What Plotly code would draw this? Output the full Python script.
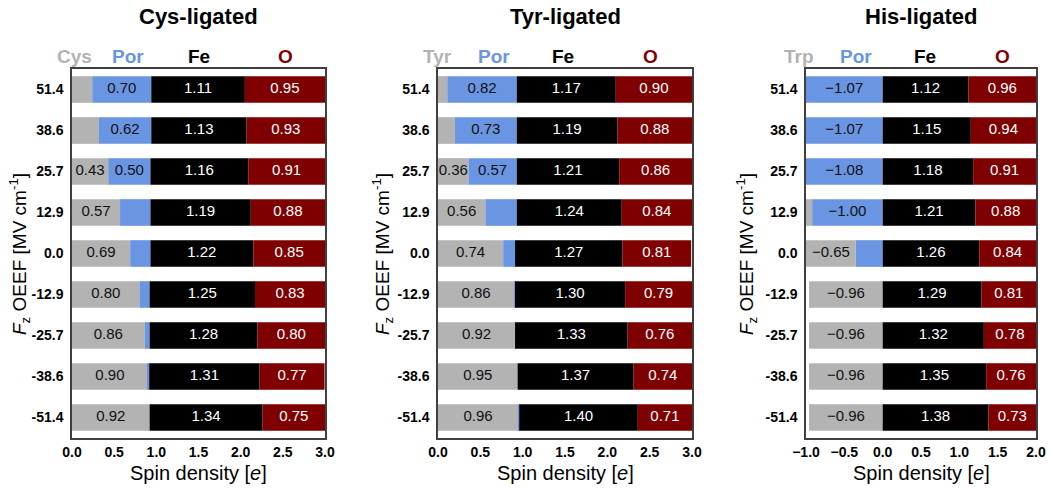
import plotly.graph_objects as go

# ---------------- data ----------------
fields = ["51.4", "38.6", "25.7", "12.9", "0.0", "-12.9", "-25.7", "-38.6", "-51.4"]

# Cys-ligated
cys_lig = [0.24, 0.32, 0.43, 0.57, 0.69, 0.80, 0.86, 0.90, 0.92]
cys_por = [0.70, 0.62, 0.50, 0.36, 0.24, 0.12, 0.06, 0.015, 0.0]
cys_fe = [1.11, 1.13, 1.16, 1.19, 1.22, 1.25, 1.28, 1.31, 1.34]
cys_o = [0.95, 0.93, 0.91, 0.88, 0.85, 0.83, 0.80, 0.77, 0.75]
cys_lig_text = ["", "", "0.43", "0.57", "0.69", "0.80", "0.86", "0.90", "0.92"]
cys_por_text = ["0.70", "0.62", "0.50", "", "", "", "", "", ""]

# Tyr-ligated
tyr_lig = [0.11, 0.20, 0.36, 0.56, 0.77, 0.90, 0.91, 0.94, 0.945]
tyr_por = [0.82, 0.73, 0.57, 0.37, 0.14, 0.01, 0.0, 0.0, 0.015]
tyr_fe = [1.17, 1.19, 1.21, 1.24, 1.27, 1.30, 1.33, 1.37, 1.40]
tyr_o = [0.90, 0.88, 0.86, 0.84, 0.81, 0.79, 0.76, 0.74, 0.71]
tyr_lig_text = ["", "", "0.36", "0.56", "0.74", "0.86", "0.92", "0.95", "0.96"]
tyr_por_text = ["0.82", "0.73", "0.57", "", "", "", "", "", ""]

# His-ligated
his_lig = [0.0, 0.0, 0.0, -0.10, -0.65, -0.96, -0.96, -0.96, -0.96]
his_por = [-1.07, -1.07, -1.08, -0.92, -0.35, 0.0, 0.0, 0.0, 0.0]
his_fe = [1.12, 1.15, 1.18, 1.21, 1.26, 1.29, 1.32, 1.35, 1.38]
his_o = [0.96, 0.94, 0.91, 0.88, 0.84, 0.81, 0.78, 0.76, 0.73]
his_lig_text = ["", "", "", "", "\u22120.65", "\u22120.96", "\u22120.96", "\u22120.96", "\u22120.96"]
his_por_text = ["\u22121.07", "\u22121.07", "\u22121.08", "\u22121.00", "", "", "", "", ""]

panel_titles = ["Cys-ligated", "Tyr-ligated", "His-ligated"]
ligand_names = ["Cys", "Tyr", "Trp"]
x_ranges = [[0, 3], [0, 3], [-1, 2]]
x_ticks = [[0, 0.5, 1, 1.5, 2, 2.5, 3], [0, 0.5, 1, 1.5, 2, 2.5, 3], [-1, -0.5, 0, 0.5, 1, 1.5, 2]]

# ---------------- style ----------------
W, H = 1050, 490
GREY = "#b3b3b3"
BLUE = "#6a95e2"
BLACK = "#000000"
RED = "#7f0000"
FONT = "Liberation Sans, Arial, sans-serif"

panels_px = [(72, 325), (438, 692), (806, 1036)]
top_px, bot_px = 69, 438
header_px = [
    [74, 128, 199, 285],
    [437, 494, 563, 650],
    [799, 856, 925, 1002],
]
ytitle_x = [19, 382, 746]

fig = go.Figure()

def px2x(p):
    return p / W

def px2y(p):
    return 1 - p / H

panels = [
    (cys_lig, cys_por, cys_fe, cys_o, cys_lig_text, cys_por_text, False),
    (tyr_lig, tyr_por, tyr_fe, tyr_o, tyr_lig_text, tyr_por_text, False),
    (his_lig, his_por, his_fe, his_o, his_lig_text, his_por_text, True),
]

for i, (lig, por, fe, o, lig_t, por_t, neg) in enumerate(panels):
    xa = "x" if i == 0 else f"x{i+1}"
    ya = "y" if i == 0 else f"y{i+1}"
    xmin, xmax = x_ranges[i]
    if neg:
        order = [(por, BLUE, por_t, "#111111"), (lig, GREY, lig_t, "#111111")]
    else:
        order = [(lig, GREY, lig_t, "#111111"), (por, BLUE, por_t, "#111111")]
    fe_t = [f"{v:.2f}" for v in fe]
    o_t = [f"{v:.2f}" for v in o]
    order += [(fe, BLACK, fe_t, "white"), (o, RED, o_t, "white")]

    pos_base = [0.0] * len(fields)
    neg_base = [0.0] * len(fields)
    for vals, col, texts, tcol in order:
        fig.add_trace(go.Bar(
            y=fields, x=vals, orientation="h", marker=dict(color=col, line=dict(width=0)),
            xaxis=xa, yaxis=ya, showlegend=False, hoverinfo="x",
        ))
        mids, ys, ts = [], [], []
        for k, v in enumerate(vals):
            if v >= 0:
                a, b = pos_base[k], pos_base[k] + v
                pos_base[k] = b
            else:
                a, b = neg_base[k] + v, neg_base[k]
                neg_base[k] = a
            a, b = max(a, xmin), min(b, xmax)
            if texts[k]:
                mids.append((a + b) / 2)
                ys.append(fields[k])
                ts.append(texts[k])
        if ts:
            fig.add_trace(go.Scatter(
                y=ys, x=mids, mode="text", text=ts,
                textfont=dict(family=FONT, size=15, color=tcol),
                xaxis=xa, yaxis=ya, showlegend=False, hoverinfo="skip",
            ))

    l, r = panels_px[i]
    axis_common = dict(
        showline=True, mirror=True, linecolor="#404040", linewidth=1.5,
        showgrid=False, zeroline=False, ticks="", automargin=False,
    )
    fig.layout[("xaxis" if i == 0 else f"xaxis{i+1}")] = dict(
        domain=[px2x(l), px2x(r)], anchor=ya, range=[xmin, xmax],
        tickvals=x_ticks[i], tickformat=".1f",
        tickfont=dict(family=FONT, size=14, color="black", weight="bold"),
        **axis_common,
    )
    fig.layout[("yaxis" if i == 0 else f"yaxis{i+1}")] = dict(
        domain=[px2y(bot_px), px2y(top_px)], anchor=xa, type="category",
        categoryorder="array", categoryarray=fields, autorange="reversed",
        tickfont=dict(family=FONT, size=14, color="black", weight="bold"),
        ticklabelstandoff=4,
        **axis_common,
    )

    cx = (l + r) / 2
    fig.add_annotation(x=px2x(cx), y=px2y(17), xref="paper", yref="paper",
                       text=f"<b>{panel_titles[i]}</b>", showarrow=False,
                       font=dict(family=FONT, size=22, color="black"),
                       xanchor="center", yanchor="middle")
    hdrs = [ligand_names[i], "Por", "Fe", "O"]
    hcols = [GREY, BLUE, BLACK, RED]
    for hx, ht, hc in zip(header_px[i], hdrs, hcols):
        fig.add_annotation(x=px2x(hx), y=px2y(56), xref="paper", yref="paper",
                           text=f"<b>{ht}</b>", showarrow=False,
                           font=dict(family=FONT, size=19, color=hc),
                           xanchor="center", yanchor="middle")
    fig.add_annotation(x=px2x(cx), y=px2y(473), xref="paper", yref="paper",
                       text="Spin density [<i>e</i>]", showarrow=False,
                       font=dict(family=FONT, size=20, color="black"),
                       xanchor="center", yanchor="middle")
    fig.add_annotation(x=px2x(ytitle_x[i]), y=px2y(254), xref="paper", yref="paper",
                       text="<i>F</i><sub>z</sub> OEEF [MV cm<sup>-1</sup>]", showarrow=False,
                       textangle=-90,
                       font=dict(family=FONT, size=19, color="black"),
                       xanchor="center", yanchor="middle")

fig.update_layout(
    width=W, height=H, barmode="relative", bargap=0.35,
    margin=dict(l=0, r=0, t=0, b=0, autoexpand=False),
    plot_bgcolor="white", paper_bgcolor="white",
    font=dict(family=FONT),
)

fig.write_html("out.html", config={"displayModeBar": False},
               post_script="document.body.style.margin='0px';")
